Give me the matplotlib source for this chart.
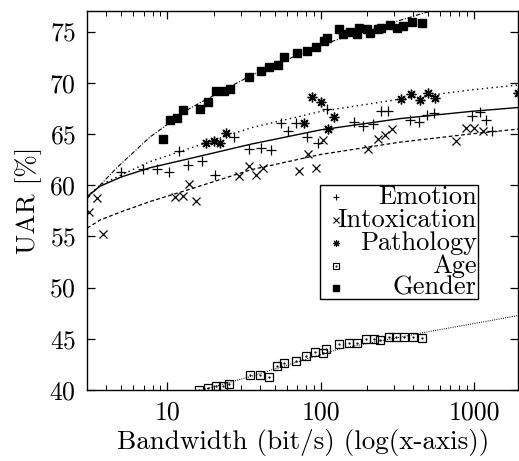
import matplotlib
matplotlib.use("Agg")
import matplotlib.pyplot as plt
from matplotlib.patches import Rectangle

plt.rcParams['font.family'] = 'cmr10'
plt.rcParams['mathtext.fontset'] = 'cm'
plt.rcParams['axes.formatter.use_mathtext'] = True

# measured points (bandwidth in bit/s, UAR in %)
emotion_x = [5.0, 6.9, 8.5, 10.2, 11.9, 13.7, 16.9, 20.6, 27.2, 34.1, 40.8, 47.5, 54.9, 61.2, 68.7, 81.7,
             95.5, 110, 165, 190, 218, 246, 273, 384, 437, 494, 551, 977, 1097, 1206, 1310]
emotion_y = [61.3, 61.6, 61.6, 61.3, 63.3, 62.0, 62.4, 61.0, 64.7, 63.5, 63.6, 63.4, 66.1, 65.3, 66.1, 64.7,
             64.1, 67.4, 66.2, 65.8, 66.0, 67.2, 67.2, 66.4, 66.2, 66.9, 67.0, 66.8, 67.1, 66.4, 65.3]

intox_x = [3.09, 3.46, 3.78, 11.2, 12.6, 13.9, 15.3, 29.4, 34.1, 37.7, 41.9, 72.6, 82.7, 92.7, 103,
           205, 235, 263, 293, 760, 889, 1007, 1140]
intox_y = [57.4, 58.7, 55.2, 58.8, 58.9, 60.1, 58.5, 60.9, 61.9, 61.0, 61.7, 61.4, 63.0, 61.7, 64.4,
           63.5, 64.5, 64.9, 65.5, 64.3, 65.6, 65.6, 65.3]

patho_x = [17.8, 20.1, 22.2, 24.3, 77.5, 88.3, 100, 111.6, 122, 332, 390, 442, 500, 553, 1950]
patho_y = [64.1, 64.3, 64.1, 65.1, 66.1, 68.6, 68.1, 65.5, 66.7, 68.4, 68.9, 68.3, 69.0, 68.5, 69.0]

age_x = [16.1, 18.4, 20.7, 22.9, 25.3, 34.5, 40.0, 46.0, 51.9, 57.4, 68.8, 80.7, 91.8, 103.5, 108.9,
         131.5, 152.8, 172.5, 198.6, 221.3, 244.8, 278.6, 311, 347.5, 399, 460]
age_y = [40.0, 40.2, 40.4, 40.4, 40.6, 41.5, 41.5, 41.3, 42.3, 42.6, 42.8, 43.3, 43.7, 43.6, 44.0,
         44.5, 44.6, 44.6, 45.0, 45.0, 44.9, 45.2, 45.2, 45.2, 45.2, 45.1]

gender_x = [9.35, 10.4, 11.5, 12.6, 16.3, 18.4, 20.7, 23.3, 25.5, 34.0, 40.6, 45.8, 52.5, 57.4, 69.8,
            81.1, 92.7, 104.5, 109.3, 131, 139, 154.5, 171.6, 177, 199.5, 208.6, 235, 246, 282, 313,
            342, 397, 461]
gender_y = [64.5, 66.4, 66.6, 67.3, 67.4, 68.1, 69.2, 69.2, 69.4, 70.6, 71.1, 71.5, 71.7, 72.5, 72.9,
            73.1, 73.5, 74.1, 74.4, 75.2, 74.8, 75.0, 74.8, 75.3, 75.2, 74.9, 75.2, 75.3, 75.6, 75.3,
            75.5, 75.9, 75.8]

# fitted trend lines
fit_x = [3, 3.64, 5, 7.7, 14, 35, 100, 330, 950, 2000]
emotion_fit = [58.9, 59.9, 60.8, 61.7, 62.6, 64.0, 65.4, 66.5, 67.2, 67.6]
intox_fit = [55.8, 56.6, 57.4, 58.4, 59.6, 61.5, 63.0, 64.2, 65.0, 65.5]
patho_fit = [58.9, 60.0, 61.0, 62.3, 63.6, 65.6, 67.2, 68.4, 69.3, 69.8]
gender_fit_x = [3, 3.64, 4.68, 7.7, 14, 35, 100, 330, 950]
gender_fit = [58.7, 60.0, 61.7, 64.7, 67.5, 70.7, 73.7, 76.1, 78.2]
age_fit_x = [15, 34.6, 54, 131, 466, 2000]
age_fit = [39.8, 41.3, 42.2, 44.0, 45.6, 47.3]

fig = plt.figure(figsize=(5.19, 4.61), dpi=100)
ax = fig.add_axes([0.168, 0.154, 0.831, 0.822])

ax.plot(fit_x, emotion_fit, '-', color='black', lw=1.0)
ax.plot(fit_x, intox_fit, '--', color='black', lw=0.9, dashes=(3, 2))
ax.plot(fit_x, patho_fit, ':', color='black', lw=1.0, dashes=(1, 2.5))
ax.plot(gender_fit_x, gender_fit, '-.', color='black', lw=0.8, dashes=(4, 1.5, 1, 1.5))
ax.plot(age_fit_x, age_fit, ':', color='black', lw=0.8, dashes=(0.8, 1.2))

ax.plot(emotion_x, emotion_y, '+', color='black', ms=7, mew=0.9, ls='none')
ax.plot(intox_x, intox_y, 'x', color='black', ms=6, mew=0.9, ls='none')
ax.plot(patho_x, patho_y, marker=(8, 2, 0), color='black', ms=7, mew=1.0, ls='none')
ax.plot(age_x, age_y, 's', mfc='none', mec='black', ms=6, mew=0.9, ls='none')
ax.plot(age_x, age_y, '.', color='black', ms=1.2, ls='none')
ax.plot(gender_x, gender_y, 's', color='black', ms=6, ls='none')

ax.set_xscale('log')
ax.set_xlim(3, 1950)
ax.set_ylim(40, 77)
ax.set_xticks([10, 100, 1000], ['10', '100', '1000'])
ax.set_yticks([40, 45, 50, 55, 60, 65, 70, 75])
ax.tick_params(which='both', direction='in', top=True, right=True, labelsize=18.5)
ax.tick_params(which='major', length=6, width=0.9, pad=8)
ax.tick_params(which='minor', length=3.5, width=0.7)
for s in ax.spines.values():
    s.set_linewidth(1.0)
ax.set_xlabel('Bandwidth (bit/s) (log(x-axis))', fontsize=19.5, labelpad=3)
ax.set_ylabel('UAR [%]', fontsize=19.5, labelpad=5)

# hand-made legend, labels right aligned like the original
ax.add_patch(Rectangle((0.540, 0.239), 0.365, 0.302, transform=ax.transAxes,
                       fill=True, fc='white', ec='black', lw=1.0, zorder=5))
labels = ['Emotion', 'Intoxication', 'Pathology', 'Age', 'Gender']
row_y = [0.509, 0.449, 0.388, 0.327, 0.269]
mx = 0.578
ax.plot([mx], [row_y[0]], '+', color='black', ms=5, mew=0.8, transform=ax.transAxes, zorder=6)
ax.plot([mx], [row_y[1]], 'x', color='black', ms=5, mew=0.8, transform=ax.transAxes, zorder=6)
ax.plot([mx], [row_y[2]], marker=(8, 2, 0), color='black', ms=5, mew=0.8, transform=ax.transAxes, zorder=6)
ax.plot([mx], [row_y[3]], 's', mfc='white', mec='black', ms=5, mew=0.8, transform=ax.transAxes, zorder=6)
ax.plot([mx], [row_y[3]], '.', color='black', ms=1, transform=ax.transAxes, zorder=7)
ax.plot([mx], [row_y[4]], 's', color='black', ms=5, transform=ax.transAxes, zorder=6)
for lab, yy in zip(labels, row_y):
    ax.text(0.903, yy, lab, transform=ax.transAxes, ha='right', va='center', fontsize=19, zorder=7)

fig.savefig('out.png', dpi=100)
